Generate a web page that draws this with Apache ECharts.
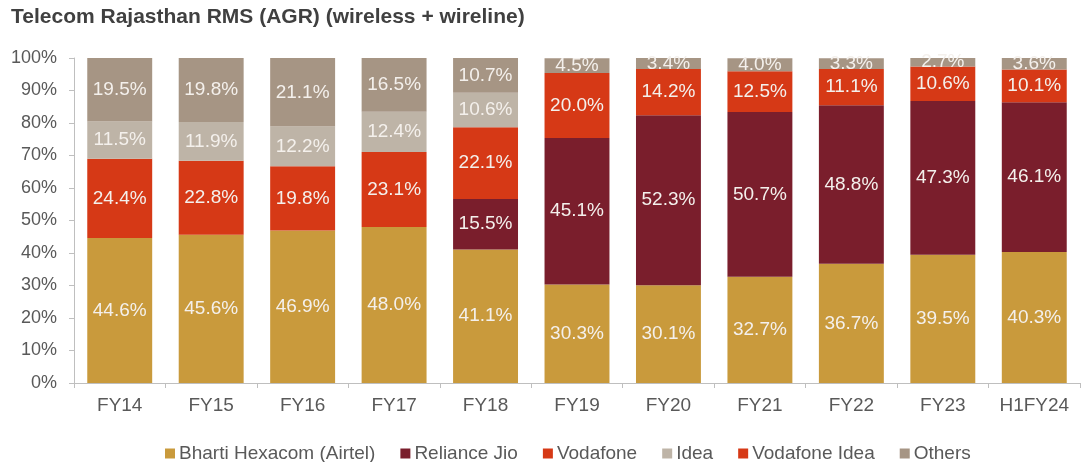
<!DOCTYPE html>
<html>
<head>
<meta charset="utf-8">
<script src="https://cdn.jsdelivr.net/npm/echarts@6/dist/echarts.min.js"></script>
<style>
  html, body { margin: 0; padding: 0; background: #fff; }
  #chart { width: 1081px; height: 462px; }
</style>
</head>
<body>
<div id="chart"></div>
<script>
// categories and shares (%), null where operator not present
var years = ['FY14', 'FY15', 'FY16', 'FY17', 'FY18', 'FY19', 'FY20', 'FY21', 'FY22', 'FY23', 'H1FY24'];
var airtel = [44.6, 45.6, 46.9, 48.0, 41.1, 30.3, 30.1, 32.7, 36.7, 39.5, 40.3];
var jio = [null, null, null, null, 15.5, 45.1, 52.3, 50.7, 48.8, 47.3, 46.1];
var vodafone = [24.4, 22.8, 19.8, 23.1, 22.1, null, null, null, null, null, null];
var idea = [11.5, 11.9, 12.2, 12.4, 10.6, null, null, null, null, null, null];
var vodaIdea = [null, null, null, null, null, 20.0, 14.2, 12.5, 11.1, 10.6, 10.1];
var others = [19.5, 19.8, 21.1, 16.5, 10.7, 4.5, 3.4, 4.0, 3.3, 2.7, 3.6];
var yTicks = ['0%', '10%', '20%', '30%', '40%', '50%', '60%', '70%', '80%', '90%', '100%'];

var myChart = echarts.init(document.getElementById('chart'));

function mkSeries(name, data, color) {
    return {
        name: name,
        type: 'bar',
        stack: 'rms',
        data: data,
        barWidth: '71%',
        itemStyle: { color: color },
        label: {
            show: true,
            position: 'inside',
            color: '#f4f0ec',
            fontFamily: 'Liberation Sans',
            fontSize: 19,
            formatter: function (p) {
                return p.value == null ? '' : p.value.toFixed(1) + '%';
            }
        }
    };
}

myChart.setOption({
    animation: false,
    backgroundColor: '#fff',
    title: {
        text: 'Telecom Rajasthan RMS (AGR) (wireless + wireline)',
        left: 6,
        top: 2,
        textStyle: {
            fontFamily: 'Liberation Sans',
            fontSize: 21,
            fontWeight: 'bold',
            color: '#404040'
        }
    },
    legend: {
        top: 439,
        left: 160,
        itemWidth: 10,
        itemHeight: 10,
        itemGap: 25,
        icon: 'rect',
        textStyle: { fontFamily: 'Liberation Sans', fontSize: 19, color: '#595959', padding: [0, 0, 0, -1] },
        data: ['Bharti Hexacom (Airtel)', 'Reliance Jio', 'Vodafone', 'Idea', 'Vodafone Idea', 'Others']
    },
    grid: {
        left: 74,
        right: 1,
        top: 58,
        bottom: 79
    },
    xAxis: {
        type: 'category',
        data: years,
        axisLine: { lineStyle: { color: '#bfbfbf' } },
        axisTick: { show: true, length: 5, lineStyle: { color: '#bfbfbf' } },
        axisLabel: { fontFamily: 'Liberation Sans', fontSize: 19, color: '#595959', margin: 13 }
    },
    yAxis: {
        type: 'value',
        min: 0,
        max: 100,
        interval: 10,
        axisLine: { show: true, lineStyle: { color: '#bfbfbf' } },
        axisTick: { show: true, length: 5, lineStyle: { color: '#bfbfbf' } },
        splitLine: { show: false },
        axisLabel: {
            fontFamily: 'Liberation Sans',
            fontSize: 18,
            color: '#595959',
            margin: 17,
            formatter: function (v) { return yTicks[Math.round(v / 10)]; }
        }
    },
    series: [
        mkSeries('Bharti Hexacom (Airtel)', airtel, '#c99a3c'),
        mkSeries('Reliance Jio', jio, '#7a1e2c'),
        mkSeries('Vodafone', vodafone, '#d63916'),
        mkSeries('Idea', idea, '#beb4a7'),
        mkSeries('Vodafone Idea', vodaIdea, '#d63916'),
        mkSeries('Others', others, '#a69584')
    ]
});
</script>
</body>
</html>
